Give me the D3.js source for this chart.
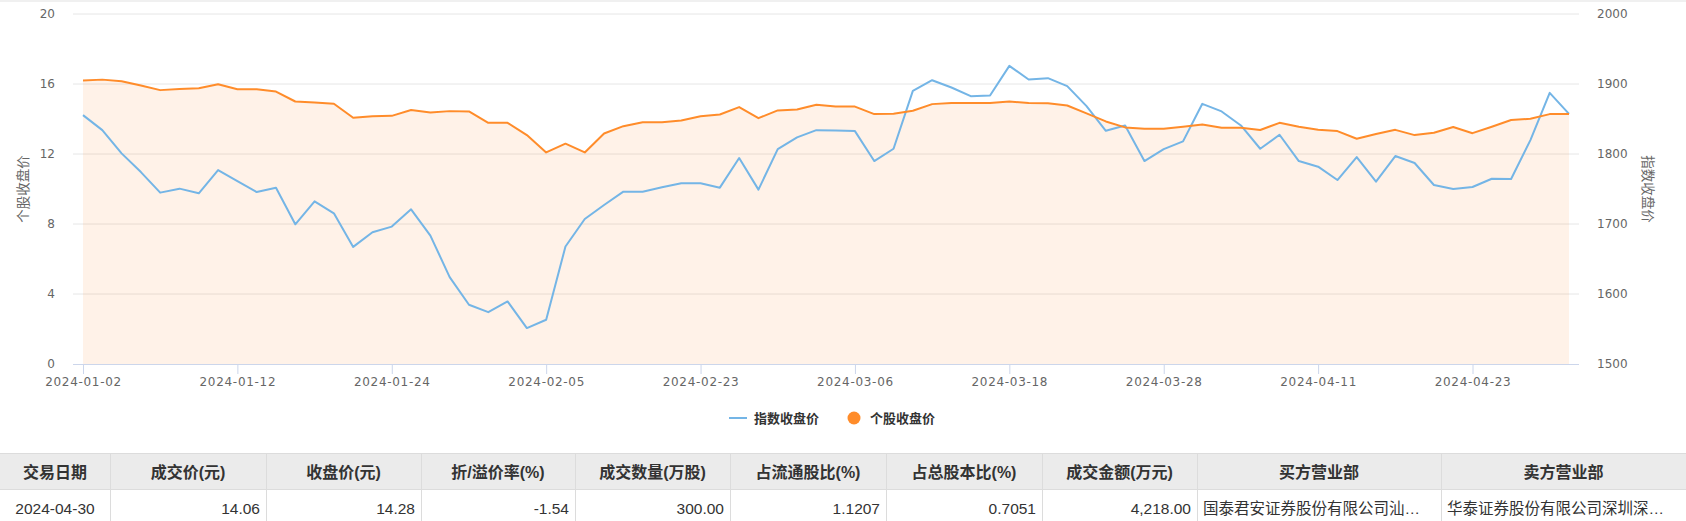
<!DOCTYPE html>
<html>
<head>
<meta charset="utf-8">
<script src="https://cdn.jsdelivr.net/npm/d3@7/dist/d3.min.js"></script>
<style>
  html, body { margin: 0; padding: 0; background: #fff; }
  svg { display: block; }
</style>
</head>
<body>
<svg id="chart" width="1686" height="521"></svg>
<script>
// ---------------- DATA ----------------
const dates = [
  "2024-01-02","2024-01-03","2024-01-04","2024-01-05","2024-01-08","2024-01-09","2024-01-10","2024-01-11","2024-01-12",
  "2024-01-15","2024-01-16","2024-01-17","2024-01-18","2024-01-19","2024-01-22","2024-01-23","2024-01-24","2024-01-25",
  "2024-01-26","2024-01-29","2024-01-30","2024-01-31","2024-02-01","2024-02-02","2024-02-05","2024-02-06","2024-02-07",
  "2024-02-08","2024-02-19","2024-02-20","2024-02-21","2024-02-22","2024-02-23","2024-02-26","2024-02-27","2024-02-28",
  "2024-02-29","2024-03-01","2024-03-04","2024-03-05","2024-03-06","2024-03-07","2024-03-08","2024-03-11","2024-03-12",
  "2024-03-13","2024-03-14","2024-03-15","2024-03-18","2024-03-19","2024-03-20","2024-03-21","2024-03-22","2024-03-25",
  "2024-03-26","2024-03-27","2024-03-28","2024-03-29","2024-04-01","2024-04-02","2024-04-03","2024-04-08","2024-04-09",
  "2024-04-10","2024-04-11","2024-04-12","2024-04-15","2024-04-16","2024-04-17","2024-04-18","2024-04-19","2024-04-22",
  "2024-04-23","2024-04-24","2024-04-25","2024-04-26","2024-04-29","2024-04-30"
];
const stockClose = [
  16.20,16.25,16.16,15.91,15.65,15.72,15.76,15.99,15.70,15.70,
  15.57,15.00,14.94,14.87,14.07,14.16,14.18,14.51,14.37,14.45,
  14.43,13.78,13.78,13.08,12.09,12.59,12.09,13.17,13.59,13.82,
  13.82,13.92,14.16,14.26,14.68,14.05,14.49,14.54,14.81,14.71,
  14.71,14.28,14.30,14.47,14.85,14.92,14.92,14.92,15.00,14.92,
  14.90,14.77,14.32,13.86,13.52,13.44,13.44,13.56,13.69,13.50,
  13.50,13.37,13.78,13.56,13.38,13.31,12.87,13.14,13.38,13.08,
  13.21,13.54,13.19,13.56,13.94,14.01,14.28,14.28
];
const indexClose = [
  1855.5,1834.1,1800.9,1774.2,1744.8,1750.5,1743.8,1777.1,1761.4,1745.7,
  1751.9,1699.6,1732.4,1715.3,1667.3,1688.2,1696.3,1721.0,1683.5,1624.1,
  1584.6,1574.1,1589.4,1551.3,1563.2,1667.8,1707.2,1727.2,1746.2,1746.2,
  1752.4,1758.1,1758.1,1751.9,1794.2,1749.1,1807.0,1823.7,1834.1,1833.7,
  1832.7,1789.9,1807.5,1890.2,1905.4,1895.0,1882.6,1883.6,1925.9,1906.4,
  1908.3,1896.9,1868.4,1833.2,1840.8,1789.9,1807.0,1818.0,1871.7,1860.8,
  1840.8,1807.5,1827.5,1789.9,1781.9,1762.8,1795.6,1760.5,1797.1,1787.1,
  1755.7,1750.0,1752.9,1764.7,1764.3,1819.9,1887.4,1857.4
];
const xTickLabels = ["2024-01-02","2024-01-12","2024-01-24","2024-02-05","2024-02-23",
                     "2024-03-06","2024-03-18","2024-03-28","2024-04-11","2024-04-23"];
const leftTicks = [0,4,8,12,16,20];
const rightTicks = [1500,1600,1700,1800,1900,2000];
const seriesNames = ["指数收盘价","个股收盘价"];
const axisTitles = ["个股收盘价","指数收盘价"];
const tableHeaders = ["交易日期","成交价(元)","收盘价(元)","折/溢价率(%)","成交数量(万股)","占流通股比(%)","占总股本比(%)","成交金额(万元)","买方营业部","卖方营业部"];
const tableRow = ["2024-04-30","14.06","14.28","-1.54","300.00","1.1207","0.7051","4,218.00","国泰君安证券股份有限公司汕…","华泰证券股份有限公司深圳深…"];
const tableAlign = ["middle","end","end","end","end","end","end","end","start","start"];
const colEdges = [0,110,266,421,575,730,886,1042,1197,1441,1686];

// ---------------- LAYOUT ----------------
const W = 1686, H = 521;
const plot = {left: 73, right: 1579, top: 14, bottom: 364, first: 83, last: 1569};
const BLUE = "#74b5e6", ORANGE = "#ff8c2a";
const LATIN = "'DejaVu Sans', 'Noto Sans CJK SC', sans-serif";
const CJK = "'Liberation Sans', 'Noto Sans CJK SC', sans-serif";

const svg = d3.select("#chart");
svg.append("rect").attr("x",0).attr("y",0).attr("width",W).attr("height",2).attr("fill","#f0f0f0");

const x = d3.scalePoint().domain(dates).range([plot.first, plot.last]);
const yL = d3.scaleLinear().domain([0,20]).range([plot.bottom, plot.top]);
const yR = d3.scaleLinear().domain([1500,2000]).range([plot.bottom, plot.top]);

// gridlines
svg.append("g").selectAll("line").data(leftTicks.filter(d => d > 0)).join("line")
  .attr("x1", plot.left).attr("x2", plot.right)
  .attr("y1", d => yL(d)).attr("y2", d => yL(d))
  .attr("stroke", "#e6e6e6").attr("stroke-width", 1);

// area fill under stock
const area = d3.area().x((d,i) => x(dates[i])).y0(yL(0)).y1(d => yL(d));
svg.append("path").datum(stockClose).attr("d", area)
  .attr("fill", ORANGE).attr("fill-opacity", 0.11);

// x axis
const xAxis = d3.axisBottom(x).tickValues(xTickLabels).tickSize(10).tickSizeOuter(0).tickPadding(5);
const gx = svg.append("g").attr("transform", `translate(0,${plot.bottom})`).call(xAxis);
gx.select(".domain").remove();
gx.selectAll(".tick line").attr("stroke", "#ccd6eb");
gx.selectAll(".tick text").attr("fill", "#666").attr("font-size", 12)
  .attr("font-family", LATIN).attr("letter-spacing", "0.7px").attr("dy", "0.55em");
svg.append("line").attr("x1", plot.left).attr("x2", plot.right)
  .attr("y1", plot.bottom + 0.5).attr("y2", plot.bottom + 0.5)
  .attr("stroke", "#ccd6eb").attr("stroke-width", 1);

// left axis
const gl = svg.append("g").attr("transform", `translate(${plot.left},0)`)
  .call(d3.axisLeft(yL).tickValues(leftTicks).tickFormat(d3.format("d")).tickSize(0).tickPadding(18));
gl.select(".domain").remove();
gl.selectAll("text").attr("fill", "#666").attr("font-size", 12).attr("font-family", LATIN);

// right axis
const gr = svg.append("g").attr("transform", `translate(${plot.right},0)`)
  .call(d3.axisRight(yR).tickValues(rightTicks).tickFormat(d3.format("d")).tickSize(0).tickPadding(18));
gr.select(".domain").remove();
gr.selectAll("text").attr("fill", "#666").attr("font-size", 12).attr("font-family", LATIN);

// axis titles
svg.append("text").text(axisTitles[0])
  .attr("transform", `translate(23,${(plot.top+plot.bottom)/2}) rotate(-90)`)
  .attr("text-anchor","middle").attr("dominant-baseline","central")
  .attr("font-size", 13.5).attr("fill","#666").attr("font-family", CJK);
svg.append("text").text(axisTitles[1])
  .attr("transform", `translate(1647,${(plot.top+plot.bottom)/2}) rotate(90)`)
  .attr("text-anchor","middle").attr("dominant-baseline","central")
  .attr("font-size", 13.5).attr("fill","#666").attr("font-family", CJK);

// lines
const lineIdx = d3.line().x((d,i) => x(dates[i])).y(d => yR(d));
svg.append("path").datum(indexClose).attr("d", lineIdx)
  .attr("fill","none").attr("stroke", BLUE).attr("stroke-width", 2).attr("stroke-linejoin","round");
const lineStk = d3.line().x((d,i) => x(dates[i])).y(d => yL(d));
svg.append("path").datum(stockClose).attr("d", lineStk)
  .attr("fill","none").attr("stroke", ORANGE).attr("stroke-width", 2).attr("stroke-linejoin","round");

// legend
const lg = svg.append("g");
lg.append("line").attr("x1",729).attr("x2",747).attr("y1",418).attr("y2",418)
  .attr("stroke", BLUE).attr("stroke-width", 2);
lg.append("text").text(seriesNames[0]).attr("x",754).attr("y",418)
  .attr("dominant-baseline","central").attr("font-size",13).attr("font-weight","bold")
  .attr("fill","#333").attr("font-family", CJK);
lg.append("circle").attr("cx",854).attr("cy",418).attr("r",6.5).attr("fill", ORANGE);
lg.append("text").text(seriesNames[1]).attr("x",870).attr("y",418)
  .attr("dominant-baseline","central").attr("font-size",13).attr("font-weight","bold")
  .attr("fill","#333").attr("font-family", CJK);

// table
const tTop = 453, tHead = 489, tBot = 525;
const tg = svg.append("g");
tg.append("rect").attr("x",0).attr("y",tTop).attr("width",W).attr("height",tHead-tTop).attr("fill","#ebebeb");
[tTop, tHead].forEach(yv => tg.append("line").attr("x1",0).attr("x2",W)
  .attr("y1",yv+0.5).attr("y2",yv+0.5).attr("stroke","#dcdcdc"));
colEdges.slice(1,-1).forEach(xv => tg.append("line").attr("x1",xv+0.5).attr("x2",xv+0.5)
  .attr("y1",tTop).attr("y2",tBot).attr("stroke","#dcdcdc"));
tg.selectAll("text.h").data(tableHeaders).join("text").attr("class","h")
  .text(d => d)
  .attr("x",(d,i) => (colEdges[i]+colEdges[i+1])/2).attr("y",(tTop+tHead)/2 + 1)
  .attr("text-anchor","middle").attr("dominant-baseline","central")
  .attr("font-size",16).attr("font-weight","bold").attr("fill","#333").attr("font-family", CJK);
tg.selectAll("text.c").data(tableRow).join("text").attr("class","c")
  .text(d => d)
  .attr("x",(d,i) => tableAlign[i]==="middle" ? (colEdges[i]+colEdges[i+1])/2
                   : tableAlign[i]==="end" ? colEdges[i+1]-6 : colEdges[i]+6)
  .attr("y",508)
  .attr("text-anchor",(d,i) => tableAlign[i]).attr("dominant-baseline","central")
  .attr("font-size",15.5).attr("fill","#333").attr("font-family", CJK);
</script>
</body>
</html>
